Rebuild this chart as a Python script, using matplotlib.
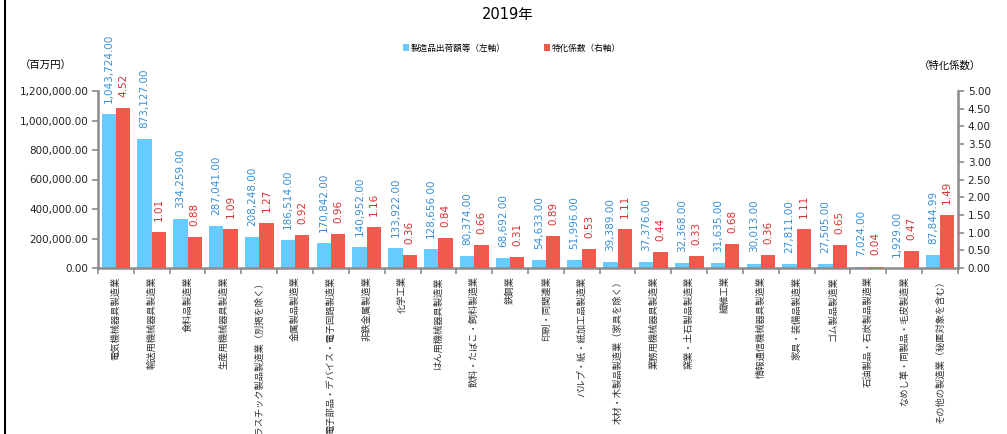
'''
2019年 製造品出荷額等と特化係数の棒グラフ
'''
import matplotlib
matplotlib.use('Agg')
import matplotlib.pyplot as plt
import numpy as np
from matplotlib.ticker import FuncFormatter, MultipleLocator

plt.rcParams['font.family'] = ['DejaVu Sans', 'Noto Sans CJK JP']

# data
industries = [
    '電気機械器具製造業',
    '輸送用機械器具製造業',
    '食料品製造業',
    '生産用機械器具製造業',
    'プラスチック製品製造業（別掲を除く）',
    '金属製品製造業',
    '電子部品・デバイス・電子回路製造業',
    '非鉄金属製造業',
    '化学工業',
    'はん用機械器具製造業',
    '飲料・たばこ・飼料製造業',
    '鉄鋼業',
    '印刷・同関連業',
    'パルプ・紙・紙加工品製造業',
    '木材・木製品製造業（家具を除く）',
    '業務用機械器具製造業',
    '窯業・土石製品製造業',
    '繊維工業',
    '情報通信機械器具製造業',
    '家具・装備品製造業',
    'ゴム製品製造業',
    '石油製品・石炭製品製造業',
    'なめし革・同製品・毛皮製造業',
    'その他の製造業（秘匿対象を含む）',
]
shipments = [1043724.00, 873127.00, 334259.00, 287041.00, 208248.00,
             186514.00, 170842.00, 140952.00, 133922.00, 128656.00,
             80374.00, 68692.00, 54633.00, 51996.00, 39389.00, 37376.00,
             32368.00, 31635.00, 30013.00, 27811.00, 27505.00, 7024.00,
             1929.00, 87844.99]
coefficients = [4.52, 1.01, 0.88, 1.09, 1.27, 0.92, 0.96, 1.16, 0.36, 0.84,
                0.66, 0.31, 0.89, 0.53, 1.11, 0.44, 0.33, 0.68, 0.36, 1.11,
                0.65, 0.04, 0.47, 1.49]

BLUE = '#66CCFF'
RED = '#EE5B4D'
BLUE_TXT = '#3A8FD6'
RED_TXT = '#D93030'
AXIS = '#8C8C8C'

fig = plt.figure(figsize=(10.07, 4.34), dpi=100)
ax = fig.add_axes([98 / 1007, 1 - 268 / 434, (958 - 98) / 1007, (268 - 91) / 434])
ax2 = ax.twinx()

x = np.arange(len(industries))
w = 0.4

bars1 = ax.bar(x - w / 2, shipments, w, color=BLUE, label='製造品出荷額等（左軸）', zorder=2)
bars2 = ax2.bar(x + w / 2, coefficients, w, color=RED, label='特化係数（右軸）', zorder=2)

for b, v in zip(bars1, shipments):
    ax.annotate(f'{v:,.2f}', (b.get_x() + b.get_width() / 2, b.get_height()),
                xytext=(0, 8), textcoords='offset points', rotation=90,
                ha='center', va='bottom', fontsize=7.5, color=BLUE_TXT)
for b, v in zip(bars2, coefficients):
    ax2.annotate(f'{v:.2f}', (b.get_x() + b.get_width() / 2, b.get_height()),
                 xytext=(0, 8), textcoords='offset points', rotation=90,
                 ha='center', va='bottom', fontsize=7.5, color=RED_TXT)

ax.set_xlim(-0.5, len(industries) - 0.5)
ax.set_ylim(0, 1200000)
ax2.set_ylim(0, 5)
ax.yaxis.set_major_locator(MultipleLocator(200000))
ax2.yaxis.set_major_locator(MultipleLocator(0.5))
ax.yaxis.set_major_formatter(FuncFormatter(lambda v, p: f'{v:,.2f}'))
ax2.yaxis.set_major_formatter(FuncFormatter(lambda v, p: f'{v:.2f}'))

# category labels on major ticks, tick marks between categories
ax.set_xticks(x)
ax.set_xticklabels(industries, rotation=90, fontsize=6.7, color='#333333',
                   va='top', ha='center')
ax.set_xticks(np.arange(-0.5, len(industries)), minor=True)
ax.tick_params(axis='x', which='major', length=0, pad=6)
ax.tick_params(axis='x', which='minor', length=4, width=1.2, color=AXIS)
ax.tick_params(axis='y', length=4, width=1.2, color=AXIS, labelsize=7.5,
               labelcolor='#222222', pad=3)
ax2.tick_params(axis='y', length=4, width=1.2, color=AXIS, labelsize=7.5,
                labelcolor='#222222', pad=3)

for a in (ax, ax2):
    a.spines['top'].set_visible(False)
    for s in ('left', 'right', 'bottom'):
        a.spines[s].set_color(AXIS)
        a.spines[s].set_linewidth(1.8)
ax.spines['right'].set_visible(False)
ax2.spines['left'].set_visible(False)
ax2.spines['bottom'].set_visible(False)

fig.text(508 / 1007, 1 - 15 / 434, '2019年', ha='center', va='center', fontsize=10.5)
fig.text(46 / 1007, 1 - 66 / 434, '（百万円）', ha='center', va='center', fontsize=7.5)
fig.text(950 / 1007, 1 - 66 / 434, '（特化係数）', ha='center', va='center', fontsize=7.5)

h1, l1 = ax.get_legend_handles_labels()
h2, l2 = ax2.get_legend_handles_labels()
fig.legend(h1 + h2, l1 + l2, loc='center', bbox_to_anchor=(512 / 1007, 1 - 48 / 434),
           ncol=2, frameon=False, fontsize=6.2, handlelength=0.7, handleheight=0.7,
           handletextpad=0.2, columnspacing=4.5)

# left border line of the frame
fig.add_artist(plt.Line2D([5 / 1007, 5 / 1007], [0, 1], color='black', lw=1.5,
                          transform=fig.transFigure))

plt.savefig('out.png', dpi=100)
